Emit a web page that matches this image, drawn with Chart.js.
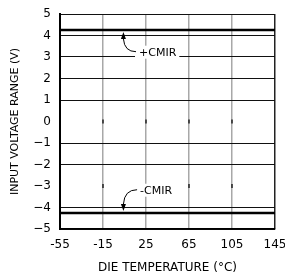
<!DOCTYPE html>
<html>
<head>
<meta charset="utf-8">
<script src="https://cdn.jsdelivr.net/npm/chart.js@4.4.1/dist/chart.umd.min.js"></script>
<style>
  html, body { margin: 0; padding: 0; background: #fff; }
  #wrap { width: 285px; height: 278px; }
</style>
</head>
<body>
<div id="wrap"><canvas id="cmirChart" width="285" height="278"></canvas></div>
<script>
// die temperature (°C) and common-mode input range (V)
const temps = [-55, -15, 25, 65, 105, 145];
const cmirPos = [4.26, 4.26, 4.26, 4.26, 4.26, 4.26];
const cmirNeg = [-4.26, -4.26, -4.26, -4.26, -4.26, -4.26];
const xTicks = [-55, -15, 25, 65, 105, 145];
const yTicks = [-5, -4, -3, -2, -1, 0, 1, 2, 3, 4, 5];
const bareRows = [0, -3];   // rows drawn only as small tick marks
const FONT = "'DejaVu Sans', sans-serif";

// labels, curved arrows, tick marks on bare rows
const cmirNotes = {
  id: 'cmirNotes',
  afterDatasetsDraw(chart) {
    const { ctx, scales: { x, y } } = chart;
    ctx.save();

    ctx.strokeStyle = '#222';
    ctx.lineWidth = 1.5;
    for (const row of bareRows) {
      for (const t of xTicks.slice(1, -1)) {
        const px = x.getPixelForValue(t), py = y.getPixelForValue(row);
        ctx.beginPath();
        ctx.moveTo(px, py - 2);
        ctx.lineTo(px, py + 2);
        ctx.stroke();
      }
    }

    ctx.font = '11px ' + FONT;
    ctx.textBaseline = 'middle';
    const note = (text, lx, ly, lineVal, dir) => {
      const px = x.getPixelForValue(lx), py = y.getPixelForValue(ly);
      const w = ctx.measureText(text).width;
      ctx.fillStyle = '#fff';
      ctx.fillRect(px - 4, py - 7, w + 7, 13);
      ctx.fillStyle = '#000';
      ctx.fillText(text, px, py);

      const tipX = x.getPixelForValue(4);
      const tipY = y.getPixelForValue(lineVal) + (dir < 0 ? 2 : -2);
      const baseY = tipY - dir * 7;
      const tailX = px - 3, tailY = py - 1;
      ctx.strokeStyle = '#000';
      ctx.lineWidth = 1;
      ctx.beginPath();
      ctx.moveTo(tailX, tailY);
      ctx.quadraticCurveTo(tipX + 1, tailY, tipX, baseY);
      ctx.stroke();
      ctx.beginPath();
      ctx.moveTo(tipX, tipY);
      ctx.lineTo(tipX - 2.5, baseY);
      ctx.lineTo(tipX + 2.5, baseY);
      ctx.closePath();
      ctx.fill();
    };
    note('+CMIR', 18.5, 3.2, cmirPos[0], -1);
    note('-CMIR', 19.5, -3.22, cmirNeg[0], 1);
    ctx.restore();
  }
};

const edge = v => v === xTicks[0] || v === xTicks[xTicks.length - 1];

new Chart(document.getElementById('cmirChart'), {
  type: 'line',
  data: {
    datasets: [
      { label: '+CMIR', data: temps.map((t, i) => ({ x: t, y: cmirPos[i] })) },
      { label: '-CMIR', data: temps.map((t, i) => ({ x: t, y: cmirNeg[i] })) }
    ].map(d => Object.assign(d, { borderColor: '#000', borderWidth: 2.5, pointRadius: 0, tension: 0 }))
  },
  options: {
    responsive: false,
    animation: false,
    layout: { padding: { top: 14, right: 10, left: 0, bottom: 0 } },
    plugins: { legend: { display: false }, tooltip: { enabled: false } },
    scales: {
      x: {
        type: 'linear',
        min: -55, max: 145,
        afterBuildTicks: s => { s.ticks = xTicks.map(v => ({ value: v })); },
        afterFit: s => { s.height = 49; s.paddingLeft = 0; s.paddingRight = 0; },
        ticks: { color: '#000', font: { family: FONT, size: 12 }, padding: 9, maxRotation: 0 },
        grid: {
          drawTicks: false,
          color: c => edge(c.tick.value) ? '#222' : '#a8a8a8',
          lineWidth: 1.5
        },
        border: { color: '#000', width: 1.5 },
        title: {
          display: true, text: 'DIE TEMPERATURE (°C)', color: '#000',
          font: { family: FONT, size: 12 }, padding: { top: 0, bottom: 3 }
        }
      },
      y: {
        min: -5, max: 5,
        afterBuildTicks: s => { s.ticks = yTicks.map(v => ({ value: v })); },
        afterFit: s => { s.width = 60; s.paddingTop = 0; s.paddingBottom = 0; },
        ticks: {
          color: '#000', font: { family: FONT, size: 12 }, padding: 9,
          callback: v => v < 0 ? '\u2212' + Math.abs(v) : String(v)
        },
        grid: {
          drawTicks: false,
          color: c => bareRows.includes(c.tick.value) ? 'rgba(0,0,0,0)' : '#111',
          lineWidth: 1
        },
        border: { color: '#000', width: 2 },
        title: {
          display: true, text: 'INPUT VOLTAGE RANGE (V)', color: '#000',
          font: { family: FONT, size: 11 }, padding: { top: 9, bottom: 0 }
        }
      }
    }
  },
  plugins: [cmirNotes]
});
</script>
</body>
</html>
